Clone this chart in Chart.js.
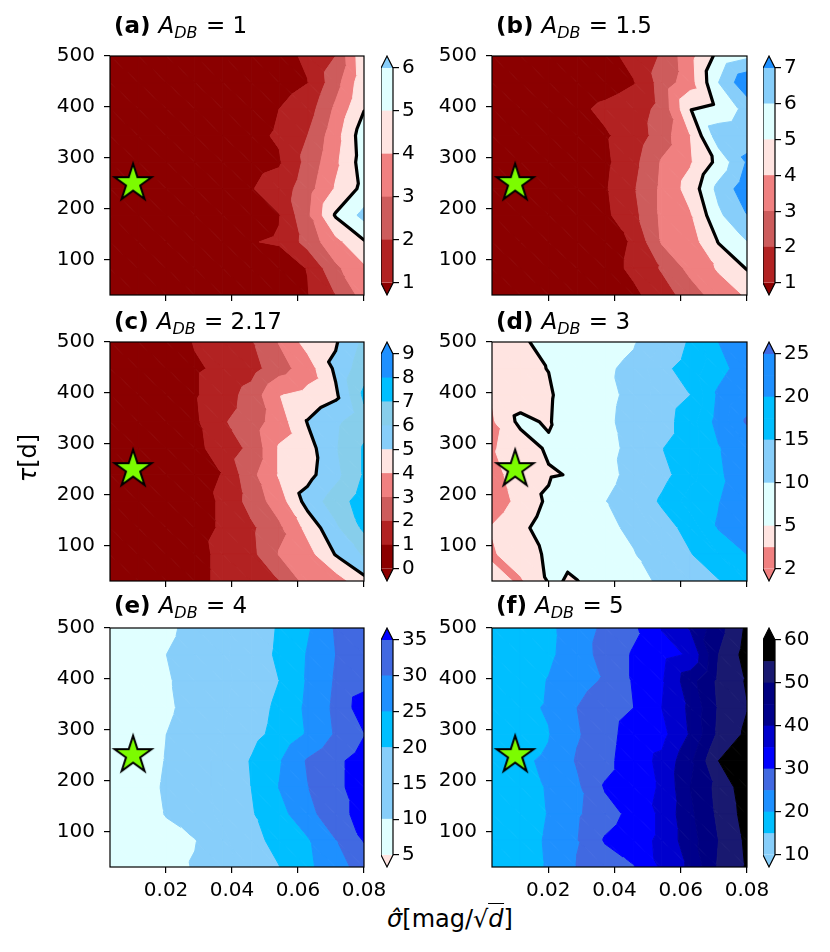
<!DOCTYPE html>
<html>
<head>
<meta charset="utf-8">
<script src="https://cdn.jsdelivr.net/npm/chart.js@4.4.0/dist/chart.umd.min.js"></script>
<style>
  body { margin: 0; background: #fff; }
  #figura { position: relative; width: 830px; height: 952px; background: #fff; overflow: hidden; }
  #figura canvas { position: absolute; }
  .etiqueta { position: absolute; font-family: "DejaVu Sans"; font-size: 24px; line-height: 1; color: #000; white-space: nowrap; }
</style>
</head>
<body>
<div id="figura"></div>
<script>
// Malla de la simulacion (filas de arriba hacia abajo)
const sigmaGrid = [0.003, 0.0116, 0.0201, 0.0287, 0.0372, 0.0458, 0.0543, 0.0629, 0.0714, 0.08];
const tauGrid = [500, 447.8, 395.6, 343.3, 291.1, 238.9, 186.7, 134.4, 82.2, 30];
const xTicks = [0.02, 0.04, 0.06, 0.08];
const yTicks = [100, 200, 300, 400, 500];
const estrellaSigma = [0.01];
const estrellaTau = [250];
const nivelNegro = 5;

// (a) A_DB = 1
const valoresA = [
  [0.3, 0.3, 0.35, 0.4, 0.5, 0.6, 0.8, 1.1, 2.0, 4.8],
  [0.3, 0.3, 0.35, 0.4, 0.5, 0.5, 0.6, 0.98, 2.6, 4.7],
  [0.3, 0.3, 0.35, 0.4, 0.5, 0.6, 1.0, 1.5, 3.2, 4.95],
  [0.3, 0.3, 0.35, 0.4, 0.55, 0.8, 1.1, 2.0, 3.6, 5.6],
  [0.3, 0.3, 0.35, 0.4, 0.55, 0.7, 0.9, 2.3, 3.8, 5.5],
  [0.3, 0.3, 0.35, 0.4, 0.55, 0.95, 1.4, 2.6, 4.1, 5.3],
  [0.3, 0.3, 0.35, 0.4, 0.55, 0.8, 0.97, 2.8, 5.1, 6.3],
  [0.3, 0.3, 0.35, 0.4, 0.55, 0.98, 1.05, 2.4, 3.7, 4.9],
  [0.3, 0.3, 0.35, 0.4, 0.5, 0.5, 0.7, 1.02, 2.8, 3.8],
  [0.3, 0.3, 0.35, 0.4, 0.5, 0.5, 0.6, 0.95, 2.0, 3.4]
];
const nivelesA = [1, 2, 3, 4, 5, 6];
const coloresA = ['#b22222', '#cd5c5c', '#f08080', '#ffe4e1', '#e0ffff'];
const ticksCbA = [1, 2, 3, 4, 5, 6];

// (b) A_DB = 1.5
const valoresB = [
  [0.3, 0.3, 0.35, 0.4, 0.7, 1.3, 2.1, 3.7, 5.3, 5.8],
  [0.3, 0.3, 0.35, 0.4, 0.6, 0.95, 2.4, 3.6, 6.0, 7.8],
  [0.3, 0.3, 0.35, 0.8, 1.2, 1.5, 2.3, 4.95, 5.3, 6.3],
  [0.3, 0.3, 0.35, 0.5, 0.9, 1.4, 2.5, 4.0, 6.6, 6.8],
  [0.3, 0.3, 0.35, 0.5, 0.8, 1.7, 3.1, 3.9, 5.3, 7.1],
  [0.3, 0.3, 0.35, 0.5, 0.9, 1.9, 3.2, 4.4, 6.3, 7.6],
  [0.3, 0.3, 0.35, 0.5, 0.8, 1.7, 3.2, 3.9, 5.8, 7.0],
  [0.3, 0.3, 0.35, 0.4, 0.6, 1.1, 3.1, 3.5, 5.05, 6.0],
  [0.3, 0.3, 0.35, 0.4, 0.6, 1.2, 2.1, 3.3, 4.1, 5.05],
  [0.3, 0.3, 0.35, 0.4, 0.5, 0.8, 1.5, 2.5, 3.5, 4.1]
];
const nivelesB = [1, 2, 3, 4, 5, 6, 7];
const coloresB = ['#b22222', '#cd5c5c', '#f08080', '#ffe4e1', '#e0ffff', '#87cefa'];
const ticksCbB = [1, 2, 3, 4, 5, 6, 7];

// (c) A_DB = 2.17
const valoresC = [
  [0.4, 0.4, 0.5, 1.05, 1.4, 1.9, 3.05, 4.4, 4.9, 6.2],
  [0.4, 0.4, 0.5, 0.9, 1.15, 1.6, 2.6, 3.5, 5.2, 6.6],
  [0.4, 0.4, 0.5, 0.9, 1.5, 2.4, 3.95, 4.3, 4.8, 7.2],
  [0.4, 0.4, 0.5, 0.8, 1.9, 2.5, 3.5, 5.05, 5.8, 6.6],
  [0.4, 0.4, 0.5, 0.7, 1.5, 2.2, 4.1, 4.6, 5.9, 7.1],
  [0.4, 0.4, 0.5, 0.8, 1.02, 2.7, 4.1, 4.7, 5.7, 7.1],
  [0.4, 0.4, 0.5, 0.7, 1.1, 2.4, 3.5, 5.4, 6.5, 7.5],
  [0.4, 0.4, 0.5, 0.7, 1.1, 1.8, 2.8, 4.3, 5.8, 7.2],
  [0.4, 0.4, 0.5, 0.6, 1.3, 1.7, 3.05, 3.6, 5.05, 6.1],
  [0.4, 0.4, 0.5, 0.6, 1.3, 1.6, 2.0, 3.4, 3.5, 4.7]
];
const nivelesC = [0, 1, 2, 3, 4, 5, 6, 7, 8, 9];
const coloresC = ['#8b0000', '#b22222', '#cd5c5c', '#f08080', '#ffe4e1', '#87cefa', '#87ceeb', '#00bfff', '#1e90ff'];
const ticksCbC = [0, 1, 2, 3, 4, 5, 6, 7, 8, 9];

// (d) A_DB = 3
const valoresD = [
  [4.0, 4.6, 5.8, 7.5, 8.5, 9.7, 12.5, 15.4, 20.0, 22.0],
  [4.0, 4.5, 5.05, 6.8, 9.5, 10.8, 14.3, 16.2, 19.0, 21.5],
  [3.6, 4.2, 4.7, 6.5, 9.0, 11.0, 13.5, 15.0, 20.5, 23.0],
  [3.3, 5.4, 4.8, 6.8, 9.2, 11.5, 13.8, 16.5, 21.0, 25.5],
  [3.4, 4.0, 5.3, 6.5, 8.9, 11.0, 14.9, 16.5, 19.8, 22.0],
  [3.0, 4.2, 4.8, 5.2, 8.5, 11.5, 14.0, 16.8, 19.5, 22.0],
  [2.7, 3.9, 5.3, 7.0, 9.9, 12.5, 15.5, 18.5, 19.9, 21.5],
  [3.6, 4.6, 5.8, 7.5, 9.2, 10.7, 13.5, 16.2, 20.2, 22.5],
  [3.3, 4.4, 5.2, 7.0, 8.5, 9.8, 12.0, 14.8, 17.5, 20.0],
  [4.0, 3.3, 5.1, 4.9, 7.5, 9.0, 10.5, 12.5, 14.8, 17.0]
];
const nivelesD = [2, 3.5, 5, 7.5, 10, 12.5, 15, 17.5, 20, 22.5, 25];
const coloresD = ['#f08080', '#ffe4e1', '#e0ffff', '#e0ffff', '#87cefa', '#87cefa', '#00bfff', '#00bfff', '#1e90ff', '#1e90ff'];
const ticksCbD = [2, 5, 10, 15, 20, 25];

// (e) A_DB = 4
const valoresE = [
  [6.0, 7.5, 9.0, 11.5, 14.0, 17.0, 20.5, 24.5, 30.5, 33.0],
  [6.0, 7.8, 10.0, 12.0, 14.2, 17.5, 20.8, 25.3, 30.0, 33.0],
  [6.0, 7.5, 9.6, 11.5, 14.0, 17.0, 20.0, 25.5, 30.5, 33.0],
  [6.0, 7.5, 9.3, 11.5, 14.2, 17.8, 21.0, 26.0, 31.0, 38.0],
  [6.2, 7.8, 10.0, 12.0, 15.0, 18.5, 21.5, 25.5, 30.5, 34.8],
  [6.3, 8.0, 10.2, 13.0, 16.5, 20.3, 24.6, 30.5, 34.0, 37.0],
  [6.3, 8.3, 10.5, 13.0, 16.5, 20.0, 25.1, 29.8, 34.0, 37.0],
  [6.2, 8.2, 10.2, 12.8, 16.0, 19.5, 23.5, 28.0, 34.0, 36.0],
  [6.0, 7.5, 8.8, 9.8, 14.0, 18.5, 21.5, 24.5, 29.8, 35.3],
  [6.0, 7.2, 8.5, 10.3, 13.5, 17.0, 19.9, 24.0, 28.0, 32.0]
];
const nivelesE = [5, 10, 15, 20, 25, 30, 35];
const coloresE = ['#e0ffff', '#87cefa', '#87cefa', '#00bfff', '#1e90ff', '#4169e1'];
const ticksCbE = [5, 10, 15, 20, 25, 30, 35];

// (f) A_DB = 5
const valoresF = [
  [16.0, 17.5, 19.0, 22.5, 26.0, 29.0, 35.2, 40.5, 48.0, 56.0],
  [16.0, 17.5, 19.2, 22.3, 27.0, 30.5, 33.5, 35.5, 50.0, 57.0],
  [16.0, 18.0, 20.2, 23.5, 25.5, 30.5, 34.5, 43.0, 51.0, 55.5],
  [16.5, 19.0, 20.4, 25.0, 27.5, 30.0, 35.0, 41.0, 50.5, 54.8],
  [16.5, 18.5, 19.8, 24.5, 28.0, 32.5, 33.5, 40.5, 51.0, 56.0],
  [17.0, 19.5, 20.5, 25.5, 28.5, 33.0, 36.0, 44.0, 55.0, 60.0],
  [17.0, 19.0, 20.2, 24.0, 30.5, 33.0, 35.5, 45.0, 51.5, 58.0],
  [17.0, 18.8, 20.1, 24.3, 28.0, 31.5, 36.0, 44.0, 51.0, 57.0],
  [17.0, 19.0, 20.3, 24.8, 30.5, 33.0, 36.0, 43.0, 50.0, 56.0],
  [17.0, 19.0, 20.2, 25.2, 27.0, 29.7, 35.8, 41.0, 50.5, 55.5]
];
const nivelesF = [10, 15, 20, 25, 30, 35, 40, 45, 50, 55, 60];
const coloresF = ['#87cefa', '#00bfff', '#1e90ff', '#4169e1', '#0000ff', '#0000cd', '#00008b', '#000080', '#191970', '#000000'];
const ticksCbF = [10, 20, 30, 40, 50, 60];

const paneles = [
  { letra: '(a)', adb: '1',    valores: valoresA, niveles: nivelesA, colores: coloresA, bajo: '#8b0000', sobre: '#87cefa', ticksCb: ticksCbA, col: 0, fila: 0 },
  { letra: '(b)', adb: '1.5',  valores: valoresB, niveles: nivelesB, colores: coloresB, bajo: '#8b0000', sobre: '#1e90ff', ticksCb: ticksCbB, col: 1, fila: 0 },
  { letra: '(c)', adb: '2.17', valores: valoresC, niveles: nivelesC, colores: coloresC, bajo: '#8b0000', sobre: '#1e90ff', ticksCb: ticksCbC, col: 0, fila: 1 },
  { letra: '(d)', adb: '3',    valores: valoresD, niveles: nivelesD, colores: coloresD, bajo: '#f08080', sobre: '#4169e1', ticksCb: ticksCbD, col: 1, fila: 1 },
  { letra: '(e)', adb: '4',    valores: valoresE, niveles: nivelesE, colores: coloresE, bajo: '#ffe4e1', sobre: '#0000ff', ticksCb: ticksCbE, col: 0, fila: 2 },
  { letra: '(f)', adb: '5',    valores: valoresF, niveles: nivelesF, colores: coloresF, bajo: '#87cefa', sobre: '#000000', ticksCb: ticksCbF, col: 1, fila: 2 }
];

// Posiciones de los ejes en la figura
const colLeft = [110, 492];
const axW = [254, 255];
const rowTop = [56, 342, 628];
const axH = 239;
const tituloOffset = [23, 13, 15];
const cbLeft = [381, 763];
const cbW = 12;

Chart.defaults.font.family = '"DejaVu Sans", sans-serif';
Chart.defaults.font.size = 20;
Chart.defaults.color = '#000';

const figura = document.getElementById('figura');

function crearCanvas(left, top, w, h) {
  const c = document.createElement('canvas');
  c.width = w;
  c.height = h;
  c.style.left = left + 'px';
  c.style.top = top + 'px';
  c.style.width = w + 'px';
  c.style.height = h + 'px';
  figura.appendChild(c);
  return c;
}

function crearEstrella() {
  const c = document.createElement('canvas');
  c.width = 48;
  c.height = 48;
  const g = c.getContext('2d');
  const R = 19.5, r = R * 0.382;
  g.beginPath();
  for (let i = 0; i < 10; i++) {
    const ang = -Math.PI / 2 + i * Math.PI / 5;
    const rad = i % 2 === 0 ? R : r;
    g.lineTo(24 + rad * Math.cos(ang), 24 + rad * Math.sin(ang));
  }
  g.closePath();
  g.fillStyle = '#7cfc00';
  g.fill();
  g.lineWidth = 2;
  g.strokeStyle = '#000';
  g.stroke();
  return c;
}
const estrella = crearEstrella();

// Recorta un poligono (vertices con valor v) contra un umbral
function recortar(poly, t, arriba) {
  const out = [];
  for (let i = 0; i < poly.length; i++) {
    const a = poly[i], b = poly[(i + 1) % poly.length];
    const ina = arriba ? a.v >= t : a.v <= t;
    const inb = arriba ? b.v >= t : b.v <= t;
    if (ina) out.push(a);
    if (ina !== inb) {
      const f = (t - a.v) / (b.v - a.v);
      out.push({ x: a.x + f * (b.x - a.x), y: a.y + f * (b.y - a.y), v: t });
    }
  }
  return out;
}

// Relleno tipo contourf sobre triangulos de la malla
const pluginContorno = {
  id: 'contorno',
  beforeDatasetsDraw(chart, args, opts) {
    const { ctx, chartArea, scales } = chart;
    const p = opts.panel;
    const limites = [-Infinity, ...p.niveles, Infinity];
    const colores = [p.bajo, ...p.colores, p.sobre];
    const punto = (i, j) => ({
      x: scales.x.getPixelForValue(sigmaGrid[j]),
      y: scales.y.getPixelForValue(tauGrid[i]),
      v: p.valores[i][j]
    });
    ctx.save();
    ctx.beginPath();
    ctx.rect(chartArea.left, chartArea.top, chartArea.right - chartArea.left, chartArea.bottom - chartArea.top);
    ctx.clip();
    const triangulos = [];
    for (let i = 0; i < tauGrid.length - 1; i++) {
      for (let j = 0; j < sigmaGrid.length - 1; j++) {
        const a = punto(i, j), b = punto(i, j + 1), c = punto(i + 1, j + 1), d = punto(i + 1, j);
        triangulos.push([a, b, c], [a, c, d]);
      }
    }
    ctx.lineJoin = 'round';
    ctx.lineWidth = 1;
    triangulos.forEach(tri => {
      for (let k = 0; k < colores.length; k++) {
        let poly = recortar(tri, limites[k], true);
        if (poly.length < 3) continue;
        poly = recortar(poly, limites[k + 1], false);
        if (poly.length < 3) continue;
        ctx.beginPath();
        poly.forEach((q, n) => n === 0 ? ctx.moveTo(q.x, q.y) : ctx.lineTo(q.x, q.y));
        ctx.closePath();
        ctx.fillStyle = colores[k];
        ctx.strokeStyle = colores[k];
        ctx.fill();
        ctx.stroke();
      }
    });
    // Linea de contorno negra en A = 5
    ctx.beginPath();
    triangulos.forEach(tri => {
      const pts = [];
      for (let n = 0; n < 3; n++) {
        const a = tri[n], b = tri[(n + 1) % 3];
        if ((a.v >= nivelNegro) !== (b.v >= nivelNegro)) {
          const f = (nivelNegro - a.v) / (b.v - a.v);
          pts.push({ x: a.x + f * (b.x - a.x), y: a.y + f * (b.y - a.y) });
        }
      }
      if (pts.length === 2) {
        ctx.moveTo(pts[0].x, pts[0].y);
        ctx.lineTo(pts[1].x, pts[1].y);
      }
    });
    ctx.lineWidth = 3.2;
    ctx.lineCap = 'round';
    ctx.strokeStyle = '#000';
    ctx.stroke();
    ctx.restore();
  },
  afterDraw(chart, args, opts) {
    const { ctx, chartArea } = chart;
    const p = opts.panel;
    ctx.save();
    ctx.strokeStyle = '#000';
    ctx.lineWidth = 1.2;
    ctx.strokeRect(chartArea.left, chartArea.top, chartArea.right - chartArea.left, chartArea.bottom - chartArea.top);
    // Titulo: (a) A_DB = 1
    let x = chartArea.left + 4;
    const yb = chartArea.top - tituloOffset[p.fila];
    ctx.fillStyle = '#000';
    ctx.textBaseline = 'alphabetic';
    ctx.textAlign = 'left';
    ctx.font = 'bold 23px "DejaVu Sans"';
    ctx.fillText(p.letra + ' ', x, yb);
    x += ctx.measureText(p.letra + ' ').width;
    ctx.font = 'italic 23px "DejaVu Sans"';
    ctx.fillText('A', x, yb);
    x += ctx.measureText('A').width;
    ctx.font = 'italic 16px "DejaVu Sans"';
    ctx.fillText('DB', x, yb + 5);
    x += ctx.measureText('DB').width;
    ctx.font = '23px "DejaVu Sans"';
    ctx.fillText(' = ' + p.adb, x + 1, yb);
    ctx.restore();
  }
};

// Flechas de extension y borde de la barra de color
const pluginBarra = {
  id: 'barra',
  afterDatasetsDraw(chart, args, opts) {
    const { ctx, chartArea } = chart;
    const { left, right, top, bottom } = chartArea;
    const mid = (left + right) / 2, h = 12;
    ctx.save();
    ctx.fillStyle = opts.sobre;
    ctx.beginPath();
    ctx.moveTo(left, top); ctx.lineTo(right, top); ctx.lineTo(mid, top - h);
    ctx.closePath(); ctx.fill();
    ctx.fillStyle = opts.bajo;
    ctx.beginPath();
    ctx.moveTo(left, bottom); ctx.lineTo(right, bottom); ctx.lineTo(mid, bottom + h);
    ctx.closePath(); ctx.fill();
    ctx.beginPath();
    ctx.moveTo(left, top); ctx.lineTo(mid, top - h); ctx.lineTo(right, top);
    ctx.lineTo(right, bottom); ctx.lineTo(mid, bottom + h); ctx.lineTo(left, bottom);
    ctx.closePath();
    ctx.strokeStyle = '#000';
    ctx.lineWidth = 1.2;
    ctx.stroke();
    ctx.restore();
  }
};

function graficarPanel(p) {
  const left = colLeft[p.col], top = rowTop[p.fila], w = axW[p.col];
  const canvas = crearCanvas(left - 62, top - 40, 62 + w + 30, 40 + axH + 34);
  const abajo = p.fila === 2;
  new Chart(canvas, {
    type: 'scatter',
    data: {
      datasets: [{
        data: estrellaSigma.map((s, i) => ({ x: s, y: estrellaTau[i] })),
        pointStyle: estrella,
        pointRadius: 20
      }]
    },
    options: {
      responsive: false,
      animation: false,
      layout: { padding: { top: 40, right: 30, left: 0, bottom: 0 } },
      plugins: { legend: { display: false }, tooltip: { enabled: false }, contorno: { panel: p } },
      scales: {
        x: {
          type: 'linear', min: sigmaGrid[0], max: sigmaGrid[sigmaGrid.length - 1],
          afterBuildTicks: axis => { axis.ticks = xTicks.map(v => ({ value: v })); },
          afterFit: axis => { axis.height = 34; },
          ticks: { display: abajo, padding: 6, maxRotation: 0, autoSkip: false, callback: v => v.toFixed(2) },
          grid: { drawOnChartArea: false, drawTicks: true, tickLength: 6, color: '#000', lineWidth: 1.2 },
          border: { display: false }
        },
        y: {
          type: 'linear', min: 30, max: 500,
          afterBuildTicks: axis => { axis.ticks = yTicks.map(v => ({ value: v })); },
          afterFit: axis => { axis.width = 62; },
          ticks: { padding: 9, autoSkip: false, callback: v => String(v) },
          grid: { drawOnChartArea: false, drawTicks: true, tickLength: 6, color: '#000', lineWidth: 1.2 },
          border: { display: false }
        }
      }
    },
    plugins: [pluginContorno]
  });
}

function graficarBarra(p) {
  const barTop = rowTop[p.fila] + 12;
  const barH = axH - 24;
  const canvas = crearCanvas(cbLeft[p.col], barTop - 30, cbW + 60, barH + 60);
  const etiqueta = v => {
    const n = p.niveles[v];
    return Number.isInteger(n) ? String(n) : '';
  };
  new Chart(canvas, {
    type: 'bar',
    data: {
      labels: [''],
      datasets: p.colores.map((c, i) => ({
        data: [[i, i + 1]],
        backgroundColor: c,
        borderWidth: 0,
        barPercentage: 1,
        categoryPercentage: 1,
        grouped: false
      }))
    },
    options: {
      responsive: false,
      animation: false,
      layout: { padding: { top: 30, bottom: 30, left: 0, right: 0 } },
      plugins: { legend: { display: false }, tooltip: { enabled: false }, barra: { sobre: p.sobre, bajo: p.bajo } },
      scales: {
        x: { type: 'category', display: false },
        y: {
          type: 'linear', position: 'right', min: 0, max: p.colores.length,
          afterBuildTicks: axis => { axis.ticks = p.ticksCb.map(t => ({ value: p.niveles.indexOf(t) })); },
          afterFit: axis => { axis.width = 60; },
          ticks: { padding: 3, autoSkip: false, callback: etiqueta },
          grid: { drawOnChartArea: false, drawTicks: true, tickLength: 6, color: '#000', lineWidth: 1.2 },
          border: { display: false }
        }
      }
    },
    plugins: [pluginBarra]
  });
}

paneles.forEach(p => {
  graficarPanel(p);
  graficarBarra(p);
});

// Etiquetas de los ejes comunes
const etiquetaY = document.createElement('div');
etiquetaY.className = 'etiqueta';
etiquetaY.innerHTML = '<i>τ</i>[d]';
etiquetaY.style.left = '27.5px';
etiquetaY.style.top = '458px';
etiquetaY.style.transform = 'translate(-50%, -50%) rotate(-90deg)';
figura.appendChild(etiquetaY);

const etiquetaX = document.createElement('div');
etiquetaX.className = 'etiqueta';
etiquetaX.innerHTML = '<i>σ̂</i>[mag/√<span style="font-style:italic;border-top:1.5px solid #000;padding-top:1px">d</span>]';
etiquetaX.style.left = '450px';
etiquetaX.style.top = '907px';
etiquetaX.style.transform = 'translateX(-50%)';
figura.appendChild(etiquetaX);
</script>
</body>
</html>
